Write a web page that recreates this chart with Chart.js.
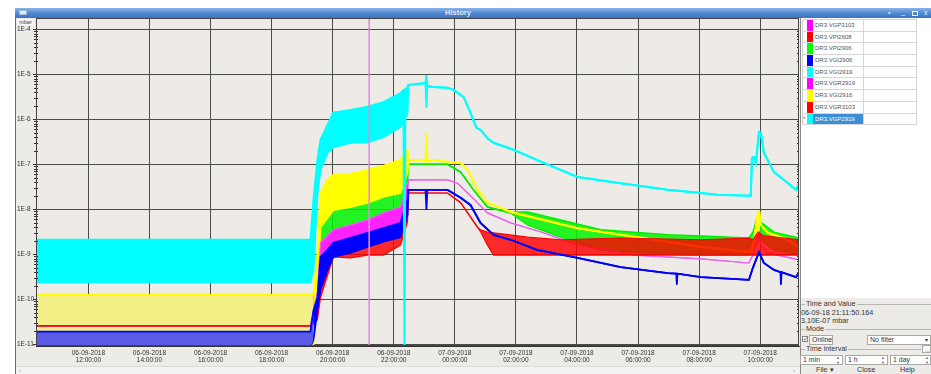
<!DOCTYPE html>
<html lang="en">
<head>
<meta charset="UTF-8">
<title>History</title>
<script src="https://cdn.jsdelivr.net/npm/chart.js@4"></script>
<style>
  html, body { margin: 0; padding: 0; }
  body { width: 931px; height: 374px; position: relative; overflow: hidden; background: #fff;
         font-family: 'Liberation Sans', Arial, sans-serif; color: #333; }
  .abs { position: absolute; white-space: nowrap; }
  #titlebar { left: 15px; top: 8px; width: 916px; height: 10px;
              background: linear-gradient(#8ab3e6, #5187d0 55%, #3d71c0); }
  #titlebar .t { position: absolute; left: 0; width: 886px; top: 0; text-align: center;
                 font: bold 7.5px/10px 'Liberation Sans', sans-serif; color: #dfeaf8; }
  #winbody { left: 15px; top: 18px; width: 785px; height: 356px; background: #ecebe7;
             border-left: 1px solid #6a6a6a; box-sizing: border-box; }
  #mbar { left: 17px; top: 19px; width: 17px; height: 7px; background: #f6f5f3;
          font-size: 5.5px; line-height: 7px; text-align: center; color: #444; }
  #side { left: 800px; top: 18px; width: 131px; height: 280px; background: #fff;
          border-left: 1px solid #8a8a8a; box-sizing: border-box; }
  #lower { left: 800px; top: 298px; width: 131px; height: 76px; background: #ecebe7;
           border-left: 1px solid #8a8a8a; box-sizing: border-box; }
  #legend { left: 802px; top: 19px; width: 115px; border-top: 1px solid #d0d0d0; }
  .row { display: flex; height: 11.7px; box-sizing: border-box; border-bottom: 1px solid #d6d6d6; }
  .row .mk { width: 4px; border-left: 1px solid #d0d0d0; font-size: 6px; line-height: 11px; color: #555; }
  .row .sw { width: 6px; }
  .row .nm { width: 48px; padding-left: 2px; font-size: 6px; line-height: 10.5px; color: #555;
             border-right: 1px solid #d6d6d6; }
  .row .nm.sel { background: #3c8fd3; color: #fff; }
  .row .bl { flex: 1; border-right: 1px solid #d6d6d6; }
  .txt { font-size: 7.2px; line-height: 8px; color: #333; }
  .grp { height: 1px; background: #b9b8b4; }
  .box { border: 1px solid #a9a8a4; background: #f8f8f7; box-sizing: border-box; font-size: 7px;
         line-height: 8px; padding-left: 2px; color: #333; }
  #scroll { left: 16px; top: 366px; width: 784px; height: 8px; background: #f4f3f1; border-top: 1px solid #dedcd8; }
</style>
</head>
<body>
<div class="abs" id="winbody"></div>
<div class="abs" id="titlebar"><div class="t">History</div></div>
<div class="abs" style="left:19px;top:10px;width:8px;height:5px;background:#e6eefa;border:1px solid #9fbbe2;box-sizing:border-box"></div>
<div class="abs" style="left:888px;top:8px;font-size:7px;line-height:10px;color:#e8f0fb">&#8226;</div>
<div class="abs" style="left:901px;top:7px;font-size:7px;line-height:10px;color:#e8f0fb">_</div>
<div class="abs" style="left:912px;top:11px;width:6px;height:5px;border:1px solid #e8f0fb;box-sizing:border-box"></div>
<div class="abs" style="left:924px;top:8px;font-size:7px;line-height:10px;color:#e8f0fb">x</div>

<canvas id="chart" width="785" height="348" style="position:absolute;left:15px;top:18px"></canvas>
<div class="abs" id="mbar">mbar</div>

<div class="abs" id="side"></div>
<div class="abs" id="legend"></div>

<div class="abs" id="lower"></div>
<div class="abs grp" style="left:801px;top:304px;width:130px"></div>
<div class="abs txt" style="left:805px;top:300px;background:#ecebe7;padding:0 1px">Time and Value</div>
<div class="abs txt" style="left:801px;top:309px">06-09-18 21:11:50.164</div>
<div class="abs txt" style="left:801px;top:317px">3.10E-07 mbar</div>
<div class="abs grp" style="left:801px;top:329px;width:130px"></div>
<div class="abs txt" style="left:805px;top:325px;background:#ecebe7;padding:0 1px">Mode</div>
<div class="abs" style="left:802px;top:336px;width:6px;height:6px;border:1px solid #888;background:#fff;box-sizing:border-box;font-size:6px;line-height:5px;text-align:center">&#10003;</div>
<div class="abs box" style="left:809px;top:335px;width:24px;height:10px;line-height:8px">Online</div>
<div class="abs box" style="left:867px;top:335px;width:64px;height:10px;background:#fff">No filter</div>
<div class="abs" style="left:925px;top:336px;font-size:6px;color:#333">&#9662;</div>
<div class="abs grp" style="left:801px;top:349px;width:120px"></div>
<div class="abs txt" style="left:805px;top:345px;background:#ecebe7;padding:0 1px">Time interval</div>
<div class="abs box" style="left:922px;top:345px;width:9px;height:8px;font-size:5px">...</div>
<div class="abs box" style="left:800px;top:355px;width:43px;height:10px;background:#fff">1 min</div>
<div class="abs box" style="left:845px;top:355px;width:43px;height:10px;background:#fff">1 h</div>
<div class="abs box" style="left:890px;top:355px;width:41px;height:10px;background:#fff">1 day</div>
<div class="abs" style="left:836px;top:355px;font-size:4px;line-height:5px;color:#666">&#9650;<br>&#9660;</div>
<div class="abs" style="left:881px;top:355px;font-size:4px;line-height:5px;color:#666">&#9650;<br>&#9660;</div>
<div class="abs" style="left:925px;top:355px;font-size:4px;line-height:5px;color:#666">&#9650;<br>&#9660;</div>
<div class="abs txt" style="left:816px;top:366px">File &#9662;</div>
<div class="abs txt" style="left:857px;top:366px">Close</div>
<div class="abs txt" style="left:900px;top:366px">Help</div>

<div class="abs" id="scroll"></div>
<div class="abs" style="left:19px;top:366px;font-size:6px;line-height:8px;color:#999">&#8249;</div>
<div class="abs" style="left:793px;top:366px;font-size:6px;line-height:8px;color:#999">&#8250;</div>

<script>
// hours since 06-09-2018 00:00, pressures in mbar
const xTicks = [12, 14, 16, 18, 20, 22, 24, 26, 28, 30, 32, 34];
const yTicks = [1e-11, 1e-10, 1e-9, 1e-8, 1e-7, 1e-6, 1e-5, 1e-4];
const xMin = 10.285, xMax = 35.27;
const yMin = 9.15e-12, yMax = 1.78e-4;
const cursorTime = 21.197;

const legendNames = ['DR3.VGP3103', 'DR3.VPI2608', 'DR3.VPI2906', 'DR3.VGI2906', 'DR3.VGI2919',
                     'DR3.VGR2919', 'DR3.VGI2916', 'DR3.VGR3103', 'DR3.VGP2919'];
const legendColors = ['#ff00ff', '#ff0000', '#00ff00', '#0000ff', '#00ffff',
                      '#ff00ff', '#ffff00', '#ff0000', '#00ffff'];

// DR3.VGI2919 (cyan)
const cyanT = [10.29, 19.27, 19.37, 19.50, 19.60, 19.83, 20.02, 20.58, 21.14, 21.66, 22.22, 22.32, 22.35, 22.38, 22.45, 22.48,
  23.04, 23.07, 23.10, 23.30, 23.76, 23.96, 24.29, 24.51, 24.71, 24.84, 25.07, 25.27, 25.92, 26.91, 28.02, 29.43, 30.97,
  32.06, 32.61, 33.69, 33.73, 33.79, 33.86, 33.96, 34.02, 34.12, 34.45, 34.91, 35.17, 35.27];
const cyanHi = [2.1e-9, 2.1e-9, 1.6e-8, 1.25e-7, 3.5e-7, 7.5e-7, 1.4e-6, 1.6e-6, 1.9e-6, 2.4e-6, 3.8e-6, 4.5e-6, 4.5e-6, 4.7e-6, 5.2e-6, 5.8e-6,
  6.4e-6, 9.6e-6, 5.5e-6, 5.2e-6, 5.0e-6, 4.5e-6, 3.1e-6, 1.4e-6, 6.4e-7, 5.8e-7, 3.8e-7, 3.0e-7, 2.1e-7, 1.07e-7, 5.2e-8, 3.8e-8, 2.7e-8,
  2.3e-8, 2.1e-8, 2.0e-8, 1.4e-7, 1.45e-7, 1.07e-7, 5.2e-7, 5.0e-7, 1.8e-7, 6.7e-8, 3.8e-8, 2.7e-8, 3.8e-8];
const cyanLo = [2.4e-10, 2.4e-10, 4.5e-10, 2.3e-8, 7.5e-8, 1.8e-7, 2.4e-7, 3.0e-7, 3.1e-7, 4.0e-7, 6.7e-7, 8.7e-7, 9.2e-12, 1.06e-6, 1.4e-6, 5.8e-6,
  6.4e-6, 1.8e-6, 5.5e-6, 5.2e-6, 5.0e-6, 4.5e-6, 3.1e-6, 1.4e-6, 6.4e-7, 5.8e-7, 3.8e-7, 3.0e-7, 2.1e-7, 1.07e-7, 5.2e-8, 3.8e-8, 2.7e-8,
  2.3e-8, 2.1e-8, 2.0e-8, 1.4e-7, 1.45e-7, 1.07e-7, 5.2e-7, 5.0e-7, 1.8e-7, 6.7e-8, 3.8e-8, 2.7e-8, 3.8e-8];

// DR3.VGI2916 (yellow)
const yelT = [10.29, 19.27, 19.37, 19.50, 19.60, 19.83, 20.02, 20.58, 21.14, 21.66, 22.22, 22.45, 22.48, 23.04, 23.07, 23.10, 23.30,
  23.76, 24.19, 24.42, 24.61, 24.74, 25.07, 25.50, 25.83, 26.91, 28.02, 29.43, 30.97, 32.06, 33.69, 33.79, 33.93, 33.96, 34.02,
  34.25, 34.91, 35.27];
const yelHi = [1.25e-10, 1.25e-10, 1.25e-10, 9.6e-10, 2.3e-8, 4.5e-8, 5.8e-8, 6.1e-8, 7.5e-8, 9.2e-8, 1.25e-7, 2.1e-7, 1.25e-7, 1.25e-7,
  5.0e-7, 1.12e-7, 1.25e-7, 1.12e-7, 1.07e-7, 7.5e-8, 4.0e-8, 2.7e-8, 1.4e-8, 1.07e-8, 8.7e-9, 5.8e-9, 3.8e-9, 2.7e-9, 1.9e-9, 1.45e-9,
  1.12e-9, 2.1e-9, 8.7e-9, 9.6e-9, 4.5e-9, 3.0e-9, 2.1e-9, 1.4e-9];
const yelLo = [9.2e-12, 9.2e-12, 9.2e-12, 2.1e-10, 4.0e-9, 6.4e-9, 9.6e-9, 1.12e-8, 1.4e-8, 1.9e-8, 2.3e-8, 6.7e-8, 1.25e-7, 1.25e-7,
  1.25e-7, 1.12e-7, 1.25e-7, 1.12e-7, 1.07e-7, 7.5e-8, 4.0e-8, 2.7e-8, 1.4e-8, 1.07e-8, 8.7e-9, 5.8e-9, 3.8e-9, 2.7e-9, 1.9e-9, 1.45e-9,
  1.12e-9, 1.12e-9, 3.5e-9, 9.6e-9, 4.5e-9, 3.0e-9, 2.1e-9, 1.4e-9];

// DR3.VPI2906 (green)
const grnT = [10.29, 19.27, 19.50, 19.60, 19.83, 20.02, 20.58, 21.14, 21.66, 22.22, 22.45, 22.48, 23.76, 24.19, 24.61, 25.07, 25.83,
  25.92, 26.38, 27.47, 28.78, 30.97, 32.06, 33.63, 33.76, 33.93, 34.02, 34.45, 35.27];
const grnHi = [9.6e-11, 9.6e-11, 2.1e-10, 4.0e-9, 6.4e-9, 9.6e-9, 1.12e-8, 1.4e-8, 1.9e-8, 2.3e-8, 6.7e-8, 1.0e-7, 1.0e-7, 6.7e-8, 2.7e-8,
  1.12e-8, 8.3e-9, 8.7e-9, 8.7e-9, 5.8e-9, 3.5e-9, 2.7e-9, 2.55e-9, 2.3e-9, 3.1e-9, 7.5e-9, 5.2e-9, 3.1e-9, 2.3e-9];
const grnLo = [1.25e-11, 1.25e-11, 1.45e-10, 1.8e-9, 2.55e-9, 3.5e-9, 4.5e-9, 5.8e-9, 8.3e-9, 1.12e-8, 3.8e-8, 1.0e-7, 1.0e-7, 6.7e-8, 2.7e-8,
  1.12e-8, 8.3e-9, 7.5e-9, 4.5e-9, 2.4e-9, 1.25e-9, 1.0e-9, 9.6e-10, 9.6e-10, 1.25e-9, 2.7e-9, 2.1e-9, 1.25e-9, 1.0e-9];

// DR3.VGR2919 (magenta)
const magT = [10.29, 19.27, 19.50, 19.60, 19.83, 20.02, 20.58, 21.14, 21.66, 22.22, 22.45, 22.48, 23.76, 24.09, 24.42, 24.74, 25.07,
  25.83, 26.91, 28.02, 29.43, 29.86, 32.06, 33.63, 33.76, 33.96, 34.02, 34.25, 35.27];
const magHi = [2.55e-11, 2.55e-11, 1.45e-10, 1.8e-9, 2.55e-9, 3.5e-9, 4.5e-9, 5.8e-9, 8.3e-9, 1.12e-8, 3.8e-8, 4.5e-8, 4.5e-8, 3.8e-8,
  2.3e-8, 1.4e-8, 8.3e-9, 5.0e-9, 3.0e-9, 1.6e-9, 1.12e-9, 9.6e-10, 7.9e-10, 6.4e-10, 9.6e-10, 3.0e-9, 1.6e-9, 1.07e-9, 7.5e-10];
const magLo = [2.55e-11, 2.55e-11, 1.07e-10, 8.7e-10, 1.25e-9, 1.8e-9, 2.3e-9, 3.0e-9, 3.8e-9, 5.0e-9, 1.6e-8, 4.5e-8, 4.5e-8, 3.8e-8,
  2.3e-8, 1.4e-8, 8.3e-9, 5.0e-9, 3.0e-9, 1.6e-9, 1.12e-9, 9.6e-10, 7.9e-10, 6.4e-10, 9.6e-10, 3.0e-9, 1.6e-9, 1.07e-9, 7.5e-10];

// DR3.VGI2906 (blue)
const bluT = [10.29, 19.27, 19.37, 19.50, 19.60, 19.83, 20.02, 20.58, 21.14, 21.66, 22.22, 22.45, 22.48, 23.04, 23.07, 23.10, 23.76,
  24.19, 24.51, 24.84, 25.27, 25.83, 26.69, 28.02, 29.43, 30.97, 31.25, 31.27, 31.29, 32.06, 33.63, 33.76, 33.96, 34.12, 34.45,
  34.66, 34.68, 34.70, 35.17, 35.27];
const bluHi = [1.9e-11, 1.9e-11, 5.7e-11, 1.07e-10, 8.7e-10, 1.25e-9, 1.8e-9, 2.3e-9, 3.0e-9, 3.8e-9, 5.0e-9, 1.6e-8, 2.7e-8, 2.7e-8,
  2.7e-8, 2.7e-8, 2.7e-8, 1.8e-8, 1.25e-8, 5.0e-9, 2.7e-9, 2.1e-9, 1.25e-9, 8.3e-10, 5.2e-10, 3.8e-10, 3.7e-10, 3.7e-10, 3.7e-10,
  3.1e-10, 2.7e-10, 5.0e-10, 1.12e-9, 6.4e-10, 4.5e-10, 4.0e-10, 4.0e-10, 4.0e-10, 3.1e-10, 4.0e-10];
const bluLo = [8.7e-12, 8.7e-12, 1.25e-11, 5.7e-11, 1.65e-10, 4.5e-10, 8.7e-10, 1.07e-9, 1.45e-9, 1.9e-9, 2.4e-9, 7.5e-9, 2.7e-8, 2.7e-8,
  9.6e-9, 2.7e-8, 2.7e-8, 1.8e-8, 1.25e-8, 5.0e-9, 2.7e-9, 2.1e-9, 1.25e-9, 8.3e-10, 5.2e-10, 3.8e-10, 3.7e-10, 2.1e-10, 3.7e-10,
  3.1e-10, 2.7e-10, 5.0e-10, 1.12e-9, 6.4e-10, 4.5e-10, 4.0e-10, 2.1e-10, 4.0e-10, 3.1e-10, 4.0e-10];

// DR3.VPI2608 (red)
const redT = [10.29, 19.27, 19.50, 19.60, 20.02, 20.58, 21.14, 21.66, 22.22, 22.45, 22.48, 23.76, 24.19, 24.42, 24.74, 24.84, 25.07,
  25.27, 26.38, 27.47, 29.43, 32.06, 33.63, 33.76, 33.93, 34.12, 35.27];
const redHi = [2.55e-11, 2.55e-11, 5.7e-11, 1.65e-10, 8.7e-10, 1.07e-9, 1.45e-9, 1.9e-9, 2.4e-9, 7.5e-9, 2.3e-8, 2.3e-8, 1.4e-8, 8.3e-9,
  4.0e-9, 3.5e-9, 3.1e-9, 3.0e-9, 2.4e-9, 2.1e-9, 2.3e-9, 2.1e-9, 2.3e-9, 2.1e-9, 3.1e-9, 2.55e-9, 2.1e-9];
const redLo = [2.55e-11, 2.55e-11, 3.5e-11, 1.07e-10, 8.7e-10, 8.3e-10, 9.6e-10, 9.6e-10, 1.6e-9, 5.2e-9, 2.3e-8, 2.3e-8, 1.4e-8, 8.3e-9,
  4.0e-9, 3.2e-9, 1.6e-9, 9.6e-10, 9.6e-10, 9.6e-10, 9.6e-10, 9.6e-10, 9.6e-10, 9.6e-10, 9.6e-10, 9.6e-10, 9.6e-10];

// legend table on the right
const legend = document.getElementById('legend')
legendNames.forEach((name, i) => {
  const last = i === legendNames.length - 1
  legend.innerHTML += `<div class="row"><span class="mk">${last ? '*' : ''}</span>` +
    `<span class="sw" style="background:${legendColors[i]}"></span>` +
    `<span class="nm${last ? ' sel' : ''}">${name}</span><span class="bl"></span></div>`
})

const pts = (times, vals) => times.map((t, i) => ({ x: t, y: vals[i] }))

// each trace is an upper and a lower envelope with the area between them filled
function trace(label, line, fillColor, times, hi, lo, order, width, extra) {
  return [
    Object.assign({ label, data: pts(times, hi), borderColor: line, backgroundColor: fillColor,
      fill: '+1', order, borderWidth: width }, extra || {}),
    { label: label + ' min', data: pts(times, lo), borderColor: line, backgroundColor: fillColor,
      fill: false, order, borderWidth: width }
  ]
}

// the long flat stretch before the pump-down is paler (dense noise)
const quietFill = (quiet, busy) => ({ segment: { backgroundColor: c => c.p1.parsed.x <= 19.4 ? quiet : busy } })

const plotFrame = {
  id: 'plotFrame',
  beforeDraw(chart) {
    const { ctx, chartArea: a } = chart
    ctx.save()
    ctx.fillStyle = '#eeebe6'
    ctx.fillRect(a.left, a.top, a.right - a.left, a.bottom - a.top)
    ctx.restore()
  },
  afterDraw(chart) {
    const { ctx, chartArea: a, scales: { y } } = chart
    ctx.save()
    ctx.strokeStyle = '#333'
    ctx.lineWidth = 1
    ctx.beginPath()
    for (let n = -12; n <= -4; n++) {
      for (let k = 2; k <= 9; k++) {
        const v = k * Math.pow(10, n)
        if (v < yMin || v > yMax) continue
        const py = Math.round(y.getPixelForValue(v)) + 0.5
        ctx.moveTo(a.left - 2, py); ctx.lineTo(a.left + 2, py)
        ctx.moveTo(a.right - 2, py); ctx.lineTo(a.right, py)
      }
    }
    ctx.stroke()
    ctx.strokeStyle = '#444'
    ctx.strokeRect(Math.round(a.left) + 0.5, Math.round(a.top) + 0.5,
      Math.round(a.right - a.left) - 1, Math.round(a.bottom - a.top) - 1)
    ctx.restore()
  }
}

const datasets = [
  { label: 'cursor', data: [{ x: cursorTime, y: yMax }, { x: cursorTime, y: yMin }],
    borderColor: '#e08be0', borderWidth: 1, fill: false, order: 0 },
  ...trace('DR3.VGI2919', '#00ffff', '#00ffff', cyanT, cyanHi, cyanLo, 1, 2),
  ...trace('DR3.VGI2906', '#0000ff', '#0000ff', bluT, bluHi, bluLo, 2, 1.8, quietFill('#5a5ae6', '#0000ff')),
  ...trace('DR3.VPI2608', '#ff0000', 'rgba(255,0,0,0.82)', redT, redHi, redLo, 3, 1.2),
  ...trace('DR3.VGR2919', '#f060f0', '#ff22ff', magT, magHi, magLo, 4, 1.2),
  ...trace('DR3.VGI2916', '#ffff00', '#ffff00', yelT, yelHi, yelLo, 5, 2, quietFill('#f3ef86', '#ffff00')),
  ...trace('DR3.VPI2906', '#00ee00', 'rgba(0,245,0,0.85)', grnT, grnHi, grnLo, 6, 1.5)
]

const tickFont = { family: "'Liberation Sans', Arial, sans-serif", size: 6.5 }

new Chart(document.getElementById('chart'), {
  type: 'line',
  data: { datasets },
  options: {
    responsive: false,
    animation: false,
    layout: { padding: { left: 2, right: 1, top: 0, bottom: 0 } },
    elements: { point: { radius: 0 }, line: { tension: 0 } },
    plugins: { legend: { display: false }, tooltip: { enabled: false } },
    scales: {
      x: {
        type: 'linear', min: xMin, max: xMax,
        afterBuildTicks: s => { s.ticks = xTicks.map(v => ({ value: v })) },
        afterFit: s => { s.height = 20; s.paddingLeft = 0; s.paddingRight = 0 },
        grid: { color: '#4a4a4a', lineWidth: 1, drawTicks: false },
        border: { color: '#333' },
        ticks: {
          padding: 3, autoSkip: false, maxRotation: 0, color: '#333', font: tickFont,
          callback: v => {
            const day = v >= 24 ? '07-09-2018' : '06-09-2018'
            const hh = String(v % 24).padStart(2, '0')
            return [day, hh + ':00:00']
          }
        }
      },
      y: {
        type: 'logarithmic', min: yMin, max: yMax,
        afterBuildTicks: s => { s.ticks = yTicks.map(v => ({ value: v })) },
        afterFit: s => { s.width = 19; s.paddingTop = 0; s.paddingBottom = 0 },
        grid: { color: '#4a4a4a', lineWidth: 1, tickLength: 3, tickColor: '#333' },
        border: { color: '#333' },
        ticks: {
          crossAlign: 'far', padding: 1, autoSkip: false, color: '#333', font: tickFont,
          callback: v => '1E' + Math.round(Math.log10(v))
        }
      }
    }
  },
  plugins: [plotFrame]
})
</script>
</body>
</html>
